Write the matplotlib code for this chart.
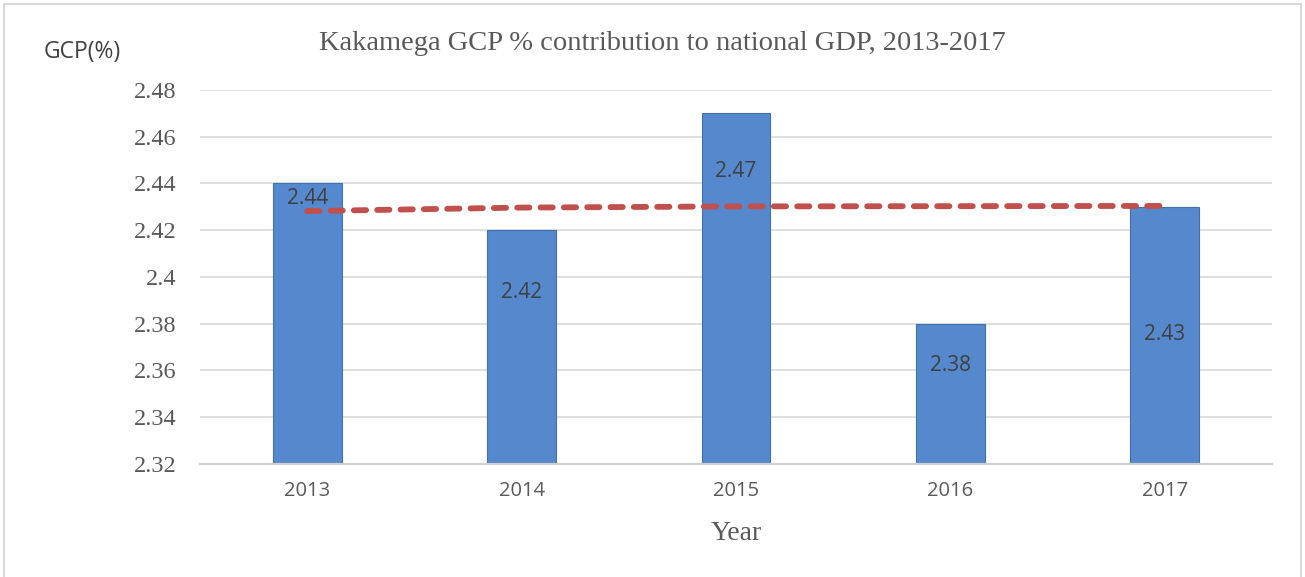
import matplotlib.pyplot as plt
from matplotlib.patches import Rectangle

years = ['2013', '2014', '2015', '2016', '2017']
gcp = [2.44, 2.42, 2.47, 2.38, 2.43]
trend = [2.4282, 2.4297, 2.4302, 2.4303, 2.4304]

# how far each data label sits below its bar top (points)
label_drop = [11, 45, 42, 30, 92]

fig = plt.figure(figsize=(13.05, 5.77), dpi=100)
ax = fig.add_axes([200 / 1305, 113 / 577, 1072 / 1305, 374 / 577])

x = range(len(years))
ax.bar(x, gcp, width=0.32, color='#5588CC', edgecolor='#4272AE', linewidth=0.8, zorder=2)
ax.plot(x, trend, color='#C0504D', linewidth=4.2, linestyle=(0, (2.1, 1.9)),
        dash_capstyle='round', zorder=3)

for i, v in enumerate(gcp):
    ax.annotate(f'{v:.2f}', (i, v), xytext=(0, -label_drop[i]), textcoords='offset points',
                ha='center', va='center', fontsize=15, family='Open Sans', color='#404040',
                zorder=4)

ax.set_ylim(2.32, 2.48)
ax.set_xlim(-0.5, len(years) - 0.5)
yt = [2.32 + 0.02 * k for k in range(9)]
ax.set_yticks(yt)
ax.set_yticklabels([f'{t:.2f}'.rstrip('0').rstrip('.') for t in yt],
                   family='Liberation Serif', fontsize=17.5, color='#595959')
ax.set_xticks(list(x))
ax.set_xticklabels(years, family='Open Sans', fontsize=14.5, color='#595959')
ax.tick_params(axis='y', length=0, pad=17)
ax.tick_params(axis='x', length=0, pad=12)

ax.grid(axis='y', color='#D9D9D9', linewidth=1.2, zorder=0)
ax.set_axisbelow(True)
for s in ['top', 'right', 'left']:
    ax.spines[s].set_visible(False)
ax.spines['bottom'].set_color('#D0D0D0')
ax.spines['bottom'].set_linewidth(1.6)

fig.text(662 / 1305, 1 - 43 / 577, 'Kakamega GCP % contribution to national GDP, 2013-2017',
         ha='center', va='center', family='Liberation Serif', fontsize=20.5, color='#595959')
fig.text(736 / 1305, 1 - 533 / 577, 'Year', ha='center', va='center',
         family='Liberation Serif', fontsize=20, color='#595959')
fig.text(82 / 1305, 1 - 52 / 577, 'GCP(%)', ha='center', va='center',
         family='Open Sans', fontsize=16.5, color='#404040')

fig.patches.append(Rectangle((4 / 1305, -0.05), 1297 / 1305, 1.05 - 4 / 577,
                             transform=fig.transFigure, fill=False,
                             edgecolor='#D9D9D9', linewidth=1.5))

fig.savefig('out.png', dpi=100)
